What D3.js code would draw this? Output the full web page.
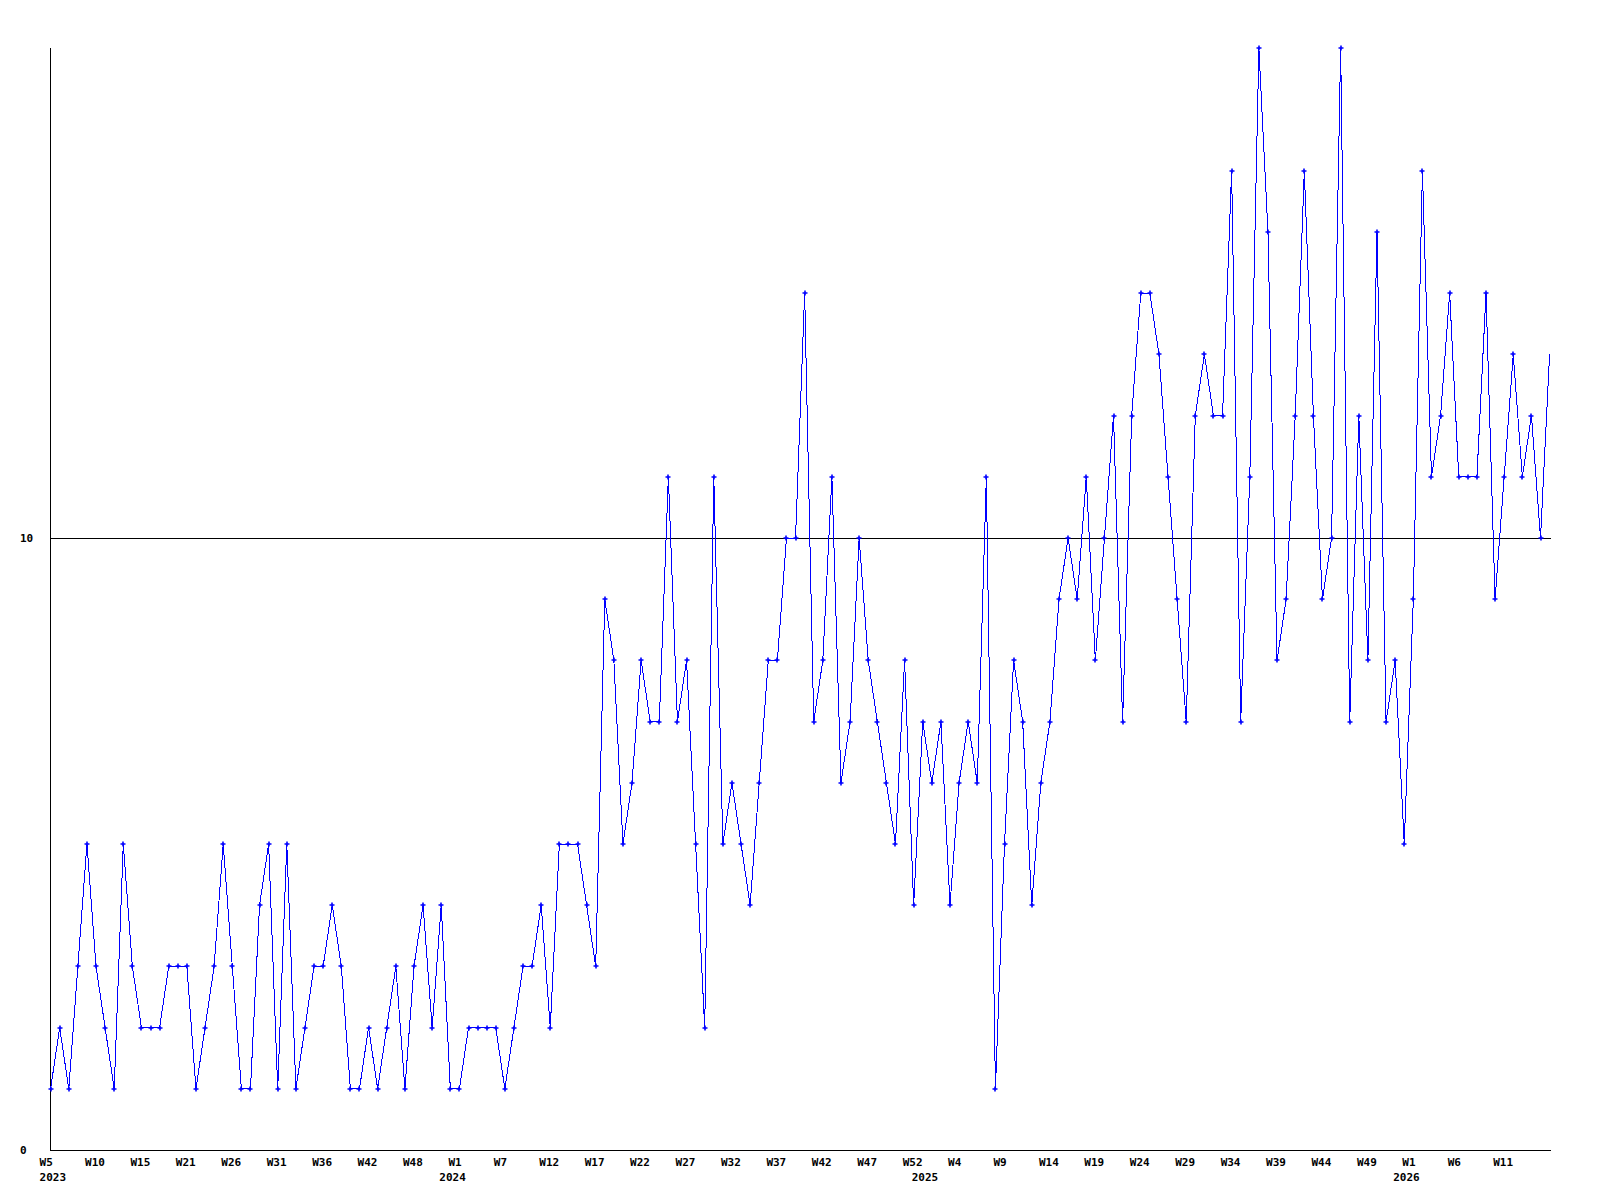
<!DOCTYPE html>
<html>
<head>
<meta charset="utf-8">
<script src="https://cdn.jsdelivr.net/npm/d3@7"></script>
<style>
  html, body { margin: 0; padding: 0; background: #fff; }
  svg { display: block; }
  text { font-family: "DejaVu Sans Mono", monospace; font-weight: bold; font-size: 11px; fill: #000; }
</style>
</head>
<body>
<svg id="chart" width="1600" height="1200"></svg>
<script>
// weekly values, W5 2023 onward
const values = [
  1,2,1,3,5,3,2,1,5,3,
  2,2,2,3,3,3,1,2,3,5,
  3,1,1,4,5,1,5,1,2,3,
  3,4,3,1,1,2,1,2,3,1,
  3,4,2,4,1,1,2,2,2,2,
  1,2,3,3,4,2,5,5,5,4,
  3,9,8,5,6,8,7,7,11,7,
  8,5,2,11,5,6,5,4,6,8,
  8,10,10,14,7,8,11,6,7,10,
  8,7,6,5,8,4,7,6,7,4,
  6,7,6,11,1,5,8,7,4,6,
  7,9,10,9,11,8,10,12,7,12,
  14,14,13,11,9,7,12,13,12,12,
  16,7,11,18,15,8,9,12,16,12,
  9,10,18,7,12,8,15,7,8,5,
  9,16,11,12,14,11,11,11,14,9,
  11,13,11,12,10,13
];
// tick labels, one every 5 points
const weekLabels = ["W5","W10","W15","W21","W26","W31","W36","W42","W48","W1","W7","W12","W17","W22","W27","W32","W37","W42","W47","W52","W4","W9","W14","W19","W24","W29","W34","W39","W44","W49","W1","W6","W11"];
const weekLabelStep = 5;
const yearLabels = ["2023","2024","2025","2026"];
const yearLabelIndex = [0,44,96,149];
const yTickValues = [0,10];

const svg = d3.select("#chart");
const plotLeft = 50, plotRight = 1550, plotTop = 48.4, plotBottom = 1150;

const x = d3.scaleLinear().domain([0, values.length - 1]).range([50.6, 1549.6]);
const y = d3.scaleLinear().domain([0, 18]).range([plotBottom, plotTop]);

svg.append("defs").append("clipPath").attr("id", "plotclip")
  .append("rect").attr("x", plotLeft).attr("y", 0).attr("width", plotRight - plotLeft + 1).attr("height", plotBottom + 1);

// axes
svg.append("line").attr("x1", plotLeft + 0.5).attr("x2", plotLeft + 0.5).attr("y1", plotTop).attr("y2", plotBottom)
  .attr("stroke", "#000").attr("stroke-width", 1).attr("shape-rendering", "crispEdges");
svg.append("line").attr("x1", plotLeft).attr("x2", plotRight + 1).attr("y1", plotBottom + 0.5).attr("y2", plotBottom + 0.5)
  .attr("stroke", "#000").attr("stroke-width", 1).attr("shape-rendering", "crispEdges");

// y=10 reference line and labels
svg.selectAll("line.grid").data(yTickValues.filter(v => v > 0)).enter().append("line")
  .attr("class", "grid")
  .attr("x1", plotLeft).attr("x2", plotRight + 1)
  .attr("y1", d => Math.round(y(d)) + 0.5).attr("y2", d => Math.round(y(d)) + 0.5)
  .attr("stroke", "#000").attr("stroke-width", 1).attr("shape-rendering", "crispEdges");
svg.selectAll("text.ylab").data(yTickValues).enter().append("text")
  .attr("class", "ylab")
  .attr("x", 20)
  .attr("y", d => y(d) + 4)
  .text(d => d);

// x labels
svg.selectAll("text.wlab").data(weekLabels).enter().append("text")
  .attr("class", "wlab")
  .attr("x", (d, i) => x(i * weekLabelStep) - 11)
  .attr("y", 1166)
  .text(d => d);
svg.selectAll("text.yearlab").data(yearLabels).enter().append("text")
  .attr("class", "yearlab")
  .attr("x", (d, i) => x(yearLabelIndex[i]) - 11)
  .attr("y", 1181)
  .text(d => d);

// line
const line = d3.line().x((d, i) => x(i)).y(d => y(d));
svg.append("path")
  .attr("clip-path", "url(#plotclip)")
  .attr("d", line(values))
  .attr("fill", "none")
  .attr("stroke", "#0000ff")
  .attr("stroke-width", 1)
  .attr("shape-rendering", "crispEdges");

// markers (last, incomplete week has none)
svg.selectAll("path.mk").data(values.slice(0, values.length - 1)).enter().append("path")
  .attr("class", "mk")
  .attr("transform", (d, i) => `translate(${Math.round(x(i))},${Math.round(y(d))})`)
  .attr("d", "M-2.5,0H2.5M0,-2.5V2.5")
  .attr("stroke", "#0000ff")
  .attr("stroke-width", 1.6)
  .attr("fill", "none");
</script>
</body>
</html>
